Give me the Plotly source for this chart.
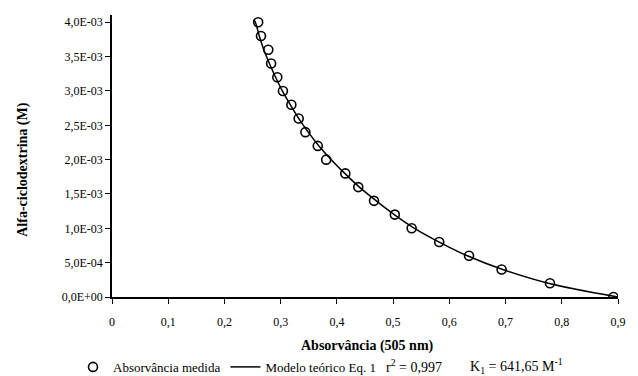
import plotly.graph_objects as go

# Measured data (absorbance at 505 nm vs alpha-cyclodextrin concentration)
abs_medida = [0.260, 0.265, 0.278, 0.283, 0.294, 0.304, 0.319, 0.332, 0.344, 0.366,
              0.381, 0.415, 0.438, 0.466, 0.503, 0.533, 0.582, 0.635, 0.693, 0.779, 0.892]
conc_medida = [4.0e-3, 3.8e-3, 3.6e-3, 3.4e-3, 3.2e-3, 3.0e-3, 2.8e-3, 2.6e-3, 2.4e-3, 2.2e-3,
               2.0e-3, 1.8e-3, 1.6e-3, 1.4e-3, 1.2e-3, 1.0e-3, 0.8e-3, 0.6e-3, 0.4e-3, 0.2e-3, 0.0]

# Theoretical model curve
abs_modelo = [0.252, 0.255, 0.262, 0.270, 0.280, 0.291, 0.303, 0.317, 0.332, 0.349, 0.368,
              0.390, 0.414, 0.440, 0.470, 0.502, 0.538, 0.582, 0.632, 0.695, 0.776, 0.900]
conc_modelo = [4.04e-3, 4.0e-3, 3.8e-3, 3.6e-3, 3.4e-3, 3.2e-3, 3.0e-3, 2.8e-3, 2.6e-3, 2.4e-3, 2.2e-3,
               2.0e-3, 1.8e-3, 1.6e-3, 1.4e-3, 1.2e-3, 1.0e-3, 0.8e-3, 0.6e-3, 0.4e-3, 0.2e-3, 0.0]

x_tickvals = [0, 0.1, 0.2, 0.3, 0.4, 0.5, 0.6, 0.7, 0.8, 0.9]
x_ticktext = ["0", "0,1", "0,2", "0,3", "0,4", "0,5", "0,6", "0,7", "0,8", "0,9"]
y_tickvals = [0, 0.5e-3, 1.0e-3, 1.5e-3, 2.0e-3, 2.5e-3, 3.0e-3, 3.5e-3, 4.0e-3]
y_ticktext = ["0,0E+00", "5,0E-04", "1,0E-03", "1,5E-03", "2,0E-03",
              "2,5E-03", "3,0E-03", "3,5E-03", "4,0E-03"]

FONT = "Liberation Serif, Times New Roman, serif"

fig = go.Figure()
fig.add_trace(go.Scatter(
    x=abs_medida, y=conc_medida, mode="markers", name="Absorvância medida",
    marker=dict(symbol="circle-open", size=9, color="black", line=dict(width=1.6, color="black")),
))
fig.add_trace(go.Scatter(
    x=abs_modelo, y=conc_modelo, mode="lines", name="Modelo teórico Eq. 1",
    line=dict(color="black", width=1.5, shape="spline"),
))

fig.update_layout(
    width=638, height=376,
    margin=dict(l=112, r=15, t=15, b=79),
    paper_bgcolor="white", plot_bgcolor="white",
    font=dict(family=FONT, size=12, color="black"),
    showlegend=True,
    legend=dict(
        orientation="h", xref="container", yref="container",
        x=0.1144, y=0.064, xanchor="left", yanchor="top",
        font=dict(family=FONT, size=13, color="black"),
        bgcolor="rgba(0,0,0,0)", itemwidth=30, traceorder="normal",
    ),
    xaxis=dict(
        range=[0, 0.9], tickvals=x_tickvals, ticktext=x_ticktext,
        showgrid=False, zeroline=False, showline=True, linecolor="black", linewidth=1.5,
        ticks="outside", ticklen=5, tickwidth=1.2, tickcolor="black",
        ticklabelstandoff=8, tickfont=dict(family=FONT, size=12),
    ),
    yaxis=dict(
        range=[0, 4.106e-3], tickvals=y_tickvals, ticktext=y_ticktext,
        showgrid=False, zeroline=False, showline=True, linecolor="black", linewidth=1.5,
        ticks="outside", ticklen=5, tickwidth=1.2, tickcolor="black",
        tickfont=dict(family=FONT, size=12),
    ),
    annotations=[
        dict(text="<b>Alfa-ciclodextrina (M)</b>", xref="paper", yref="paper",
             x=-0.176, y=0.451, textangle=-90, showarrow=False,
             font=dict(family=FONT, size=14), xanchor="center", yanchor="middle"),
        dict(text="<b>Absorvância (505 nm)</b>", xref="paper", yref="paper",
             x=0.505, y=-0.1725, showarrow=False,
             font=dict(family=FONT, size=14), xanchor="center", yanchor="middle"),
        dict(text="r<sup>2</sup> = 0,997", xref="paper", yref="paper",
             x=(387 - 112) / 511, y=-0.243, showarrow=False,
             font=dict(family=FONT, size=14), xanchor="left", yanchor="middle"),
        dict(text="K<sub>1</sub> = 641,65 M<sup>-1</sup>", xref="paper", yref="paper",
             x=(472 - 112) / 511, y=-0.243, showarrow=False,
             font=dict(family=FONT, size=14), xanchor="left", yanchor="middle"),
    ],
)

fig.write_html("out.html", config={"displayModeBar": False},
               post_script="document.body.style.margin='0';")
